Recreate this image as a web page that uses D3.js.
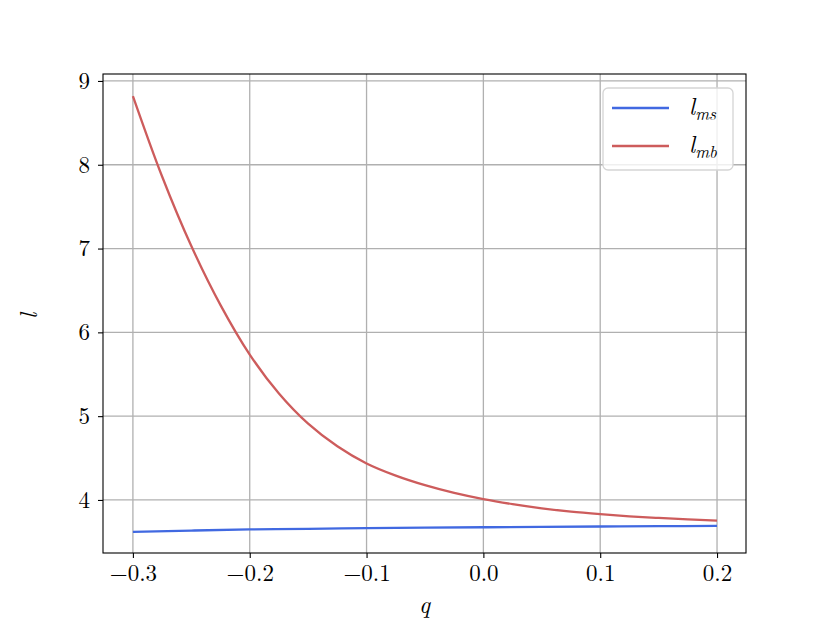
<!DOCTYPE html>
<html><head><meta charset="utf-8">
<script src="https://cdn.jsdelivr.net/npm/d3@7"></script>
<style>body{margin:0;background:#fff}svg{display:block}svg text{font-family:"Latin Modern Roman","CMU Serif","Liberation Serif",serif;fill:#000}</style>
</head><body><svg id="c" width="830" height="623"></svg>
<script>
const qRed = [-0.3,-0.275,-0.25,-0.225,-0.2,-0.175,-0.15,-0.125,-0.1,-0.075,-0.05,-0.025,0,0.025,0.05,0.075,0.1,0.125,0.15,0.175,0.2];
const lmb  = [8.82,7.86,7.03,6.325,5.735,5.27,4.91,4.64,4.435,4.29,4.176,4.084,4.01,3.95,3.90,3.86,3.83,3.805,3.785,3.768,3.753];
const qBlue = [-0.3,-0.25,-0.2,-0.15,-0.1,-0.05,0,0.05,0.1,0.15,0.2];
const lms   = [3.618,3.635,3.648,3.656,3.663,3.669,3.674,3.679,3.683,3.687,3.69];
const xTicks = [-0.3,-0.2,-0.1,0.0,0.1,0.2];
const yTicks = [4,5,6,7,8,9];
const seriesNames = ["ms","mb"];
const colors = ["#4169e1","#cd5c5c"];

const svg = d3.select("#c");
const L=103,R=746,T=74,B=553;
const x = d3.scaleLinear().domain([-0.3256,0.2248]).range([L,R]);
const y = d3.scaleLinear().domain([3.367,9.083]).range([B,T]);
const FF = '"Latin Modern Roman","CMU Serif","Liberation Serif",serif';

const g = svg.append("g");
g.selectAll(".gx").data(xTicks).join("line").attr("x1",d=>x(d)).attr("x2",d=>x(d)).attr("y1",T).attr("y2",B).attr("stroke","#b0b0b0").attr("stroke-width",1.3);
g.selectAll(".gy").data(yTicks).join("line").attr("y1",d=>y(d)).attr("y2",d=>y(d)).attr("x1",L).attr("x2",R).attr("stroke","#b0b0b0").attr("stroke-width",1.3);

const fmt = d => (d<0?"\u2212":"") + Math.abs(d).toFixed(1);
const xa = svg.append("g").attr("transform",`translate(0,${B})`).call(d3.axisBottom(x).tickValues(xTicks).tickFormat(fmt).tickSize(5).tickPadding(7));
const ya = svg.append("g").attr("transform",`translate(${L},0)`).call(d3.axisLeft(y).tickValues(yTicks).tickFormat(d3.format("d")).tickSize(5).tickPadding(8));
[xa,ya].forEach(a=>{a.attr("font-family",FF).attr("font-size",23);a.select(".domain").remove();a.selectAll("line").attr("stroke","#000").attr("stroke-width",1.1);a.selectAll("text").style("font-family",FF).style("font-size","23px").attr("fill","#000");});

const line = d3.line().x(d=>x(d[0])).y(d=>y(d[1])).curve(d3.curveCatmullRom.alpha(0.5));
svg.append("path").datum(qBlue.map((q,i)=>[q,lms[i]])).attr("d",line).attr("fill","none").attr("stroke",colors[0]).attr("stroke-width",2.3);
svg.append("path").datum(qRed.map((q,i)=>[q,lmb[i]])).attr("d",line).attr("fill","none").attr("stroke",colors[1]).attr("stroke-width",2.3);

svg.append("rect").attr("x",L).attr("y",T).attr("width",R-L).attr("height",B-T).attr("fill","none").attr("stroke","#000").attr("stroke-width",1.1);

svg.append("text").attr("x",(L+R)/2).attr("y",613).attr("text-anchor","middle").style("font-size","24px").style("font-style","italic").text("q");
svg.append("text").attr("transform","translate(37,316) rotate(-90)").attr("text-anchor","middle").style("font-size","24px").style("font-style","italic").text("l");

const lg = svg.append("g");
lg.append("rect").attr("x",603).attr("y",88).attr("width",130).attr("height",82).attr("rx",5).attr("fill","#fff").attr("fill-opacity",0.8).attr("stroke","#d5d5d5").attr("stroke-width",1.3);
seriesNames.forEach((s,i)=>{
  const yy = 108 + i*38;
  lg.append("line").attr("x1",612).attr("x2",669).attr("y1",yy).attr("y2",yy).attr("stroke",colors[i]).attr("stroke-width",2.3);
  const t = lg.append("text").attr("x",689).attr("y",yy+7).style("font-size","24px").style("font-style","italic");
  t.append("tspan").text("l");
  t.append("tspan").attr("dy",5).style("font-size","17px").text(s);
});
</script></body></html>
